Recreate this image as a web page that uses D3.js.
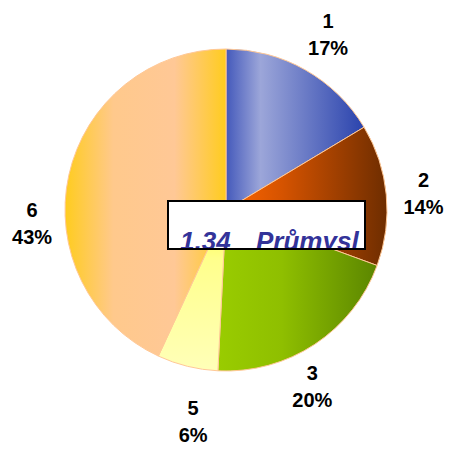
<!DOCTYPE html>
<html>
<head>
<meta charset="utf-8">
<script src="https://cdn.jsdelivr.net/npm/d3@7/dist/d3.min.js"></script>
<style>
  html, body { margin: 0; padding: 0; background: #fff; }
  svg { display: block; }
</style>
</head>
<body>
<svg id="chart" width="449" height="449"></svg>
<script>
// ---- data ----
const categories = ["1", "2", "3", "5", "6"];
const values = [16.4, 14.2, 20.2, 6.1, 43.1];
const percentLabels = ["17%", "14%", "20%", "6%", "43%"];
const boxNumber = "1.34";
const boxTitle = "Průmysl";

// ---- layout / style ----
const W = 449, H = 449;
const cx = 226, cy = 210, R = 161;
const gradients = [
  { dir: "h", stops: [[0, "#4459bb"], [0.25, "#9ca6d9"], [1, "#2a43ad"]] },
  { dir: "h", stops: [[0, "#ff6600"], [0.35, "#d55300"], [1, "#6e2d00"]] },
  { dir: "h", stops: [[0, "#99cc00"], [0.4, "#8fbf00"], [1, "#5b8600"]] },
  { dir: "v", stops: [[0, "#ffff33"], [0.3, "#ffff8c"], [1, "#ffffb8"]] },
  { dir: "h", stops: [[0, "#ffcc1e"], [0.3, "#ffc98c"], [0.68, "#ffc896"], [1, "#ffcc1e"]] }
];
const labelNudge = [[3.5, -1.4], [-1.6, 2.3], [-24, 10], [15, 17], [1.4, 57]];

const svg = d3.select("#chart");
const defs = svg.append("defs");

gradients.forEach((g, i) => {
  const lg = defs.append("linearGradient").attr("id", "grad" + i)
    .attr("x1", 0).attr("y1", 0)
    .attr("x2", g.dir === "h" ? 1 : 0).attr("y2", g.dir === "h" ? 0 : 1);
  g.stops.forEach(s => lg.append("stop").attr("offset", s[0]).attr("stop-color", s[1]));
});

const pie = d3.pie().sort(null).value(d => d);
const arcs = pie(values);
const arc = d3.arc().innerRadius(0).outerRadius(R);
const labelArc = d3.arc().innerRadius(400).outerRadius(400);

const g = svg.append("g").attr("transform", `translate(${cx},${cy})`);
g.selectAll("path.slice").data(arcs).enter().append("path")
  .attr("class", "slice")
  .attr("d", arc)
  .attr("fill", (d, i) => `url(#grad${i})`)
  .attr("stroke", "#ffc896")
  .attr("stroke-width", 1);

// labels
const lab = g.selectAll("g.lab").data(arcs).enter().append("g").attr("class", "lab")
  .attr("transform", (d, i) => {
    const c = labelArc.centroid(d);
    return `translate(${c[0] / 2 + labelNudge[i][0]},${c[1] / 2 + labelNudge[i][1]})`;
  });
lab.append("text")
  .attr("text-anchor", "middle")
  .attr("y", -6.5)
  .attr("font-family", "Liberation Sans, Arial, sans-serif")
  .attr("font-weight", "bold").attr("font-size", 20).attr("fill", "#000")
  .text((d, i) => categories[i]);
lab.append("text")
  .attr("text-anchor", "middle")
  .attr("y", 20.5)
  .attr("font-family", "Liberation Sans, Arial, sans-serif")
  .attr("font-weight", "bold").attr("font-size", 20).attr("fill", "#000")
  .text((d, i) => percentLabels[i]);

// title box
const bx = 168, by = 201, bw = 197, bh = 48;
defs.append("clipPath").attr("id", "boxclip")
  .append("rect").attr("x", bx).attr("y", by).attr("width", bw).attr("height", bh);
svg.append("rect").attr("x", bx).attr("y", by).attr("width", bw).attr("height", bh)
  .attr("fill", "#fff");
const tg = svg.append("g").attr("clip-path", "url(#boxclip)");
tg.append("text").attr("x", 180).attr("y", 250)
  .attr("font-family", "Liberation Sans, Arial, sans-serif")
  .attr("font-weight", "bold").attr("font-style", "italic").attr("font-size", 26)
  .attr("fill", "#333399").text(boxNumber);
tg.append("text").attr("x", 256).attr("y", 250)
  .attr("font-family", "Liberation Sans, Arial, sans-serif")
  .attr("font-weight", "bold").attr("font-style", "italic").attr("font-size", 26)
  .attr("fill", "#333399").text(boxTitle);
svg.append("rect").attr("x", bx).attr("y", by).attr("width", bw).attr("height", bh)
  .attr("fill", "none").attr("stroke", "#000").attr("stroke-width", 2);
</script>
</body>
</html>
